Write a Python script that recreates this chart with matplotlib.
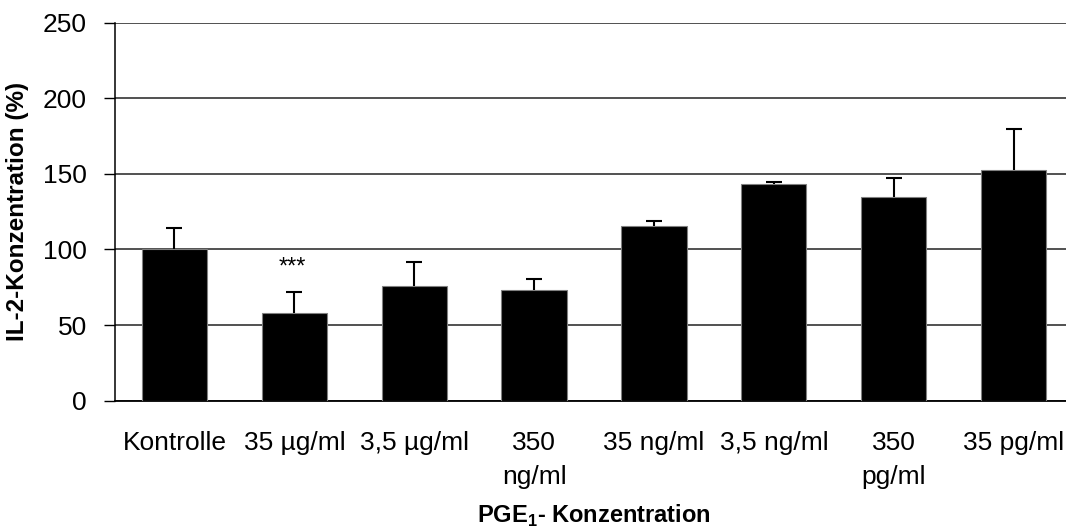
import matplotlib.pyplot as plt
import numpy as np

plt.rcParams['font.family'] = ['Liberation Sans', 'DejaVu Sans']

# IL-2 concentration per PGE1 dose
labels = ['Kontrolle', '35 µg/ml', '3,5 µg/ml', '350\nng/ml',
          '35 ng/ml', '3,5 ng/ml', '350\npg/ml', '35 pg/ml']
means = [100, 58, 76, 73.5, 115.5, 143.5, 135, 152.5]
errs = [14, 14, 16, 7, 3.3, 1, 12.5, 27.5]
stars = ['', '***', '', '', '', '', '', '']

fig = plt.figure(figsize=(10.66, 5.29), dpi=100)
# axes run a little past the right edge of the figure
ax = fig.add_axes([114.5 / 1066, 1 - 400.7 / 529, 959 / 1066, 378 / 529])

x = np.arange(len(labels))
ax.bar(x, means, width=0.545, color='black', edgecolor='#808080',
       linewidth=0.8, zorder=3)
eb = ax.errorbar(x, means, yerr=[np.zeros(len(errs)), errs], fmt='none',
                 ecolor='black', elinewidth=1.5, capsize=5.6, capthick=1.5,
                 zorder=4)
# only the upper caps
eb[1][0].set_visible(False)

for xi, m, e, s in zip(x, means, errs, stars):
    if s:
        ax.text(xi - 0.02, m + e + 8.5, s, ha='center', va='bottom',
                fontsize=17)

ax.set_xlim(-0.5, 7.5)
ax.set_ylim(0, 250)
ax.set_yticks(np.arange(0, 251, 50))
ax.set_xticks(x)
ax.set_xticklabels(labels, linespacing=1.5)
ax.tick_params(axis='x', length=0, pad=22, labelsize=19)
ax.tick_params(axis='y', length=8, width=1, pad=12, labelsize=19,
               direction='out')

ax.yaxis.grid(True, color='#222222', linewidth=1.1)
ax.set_axisbelow(True)
for side in ['top', 'right']:
    ax.spines[side].set_visible(False)
ax.spines['left'].set_linewidth(1.1)
ax.spines['bottom'].set_linewidth(1.3)

ax.set_ylabel('IL-2-Konzentration (%)', fontsize=17.5, fontweight='bold',
              labelpad=10)
fig.text(594 / 1066, 1 - 516 / 529, 'PGE$_\\mathregular{1}$- Konzentration',
         ha='center', va='center', fontsize=17, fontweight='bold')

fig.savefig('out.png', dpi=100)
